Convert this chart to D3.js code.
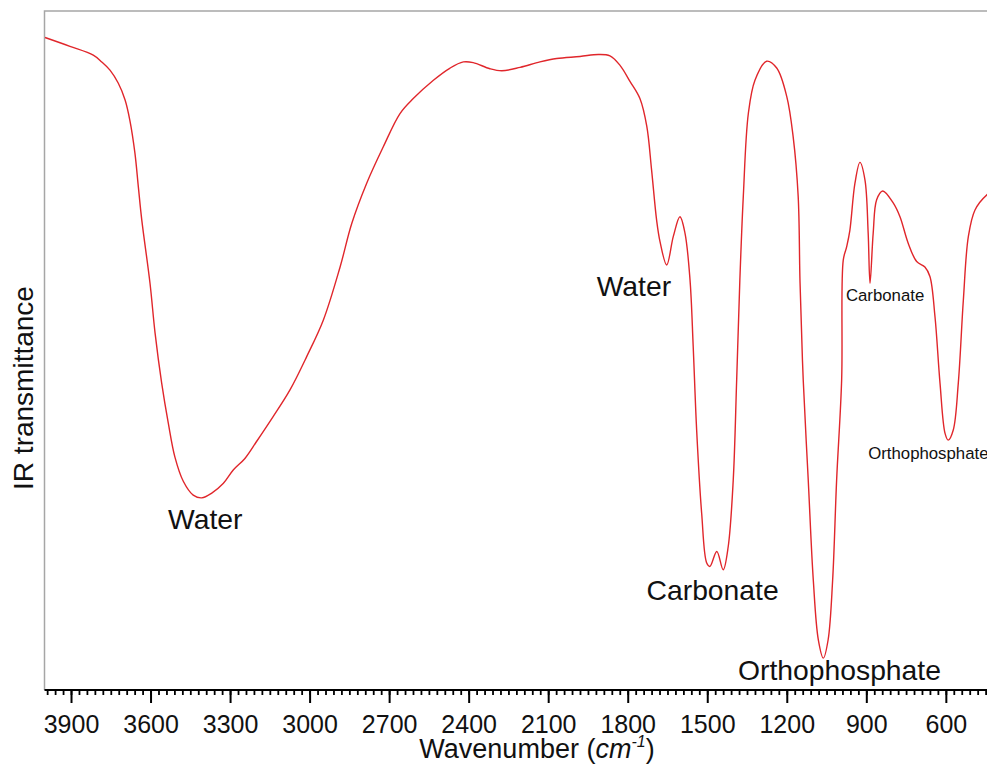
<!DOCTYPE html>
<meta charset="utf-8"/>
<style>
  body { margin: 0; background: #fff; }
  text { font-family: "Liberation Sans", Arial, sans-serif; }
</style>
<svg width="987" height="771"></svg>
<script src="https://d3js.org/d3.v7.min.js"></script>
<script>

// spectrum: wavenumber (cm-1) and transmittance (arbitrary %)
var wavenumber = [3998, 3904, 3816, 3784, 3753, 3722, 3696, 3678, 3659, 3646, 3633, 3602, 3583,
  3558, 3533, 3508, 3476, 3439, 3407, 3369, 3326, 3288, 3244, 3200, 3137, 3074, 3011, 2948, 2885,
  2841, 2785, 2722, 2659, 2609, 2533, 2470, 2420, 2383, 2320, 2275, 2206, 2131, 2068, 1980, 1911,
  1867, 1829, 1791, 1754, 1728, 1710, 1691, 1678, 1653, 1628, 1603, 1584, 1565, 1553, 1540, 1521,
  1502, 1490, 1464, 1440, 1421, 1402, 1389, 1377, 1364, 1345, 1320, 1276, 1238, 1200, 1176, 1157,
  1150, 1138, 1119, 1100, 1081, 1062, 1044, 1027, 1012, 993, 987, 974, 962, 943, 924, 905, 893,
  886, 874, 861, 838, 798, 773, 742, 710, 679, 660, 641, 622, 603, 591, 572, 553, 534, 515, 490,
  446, 400];
var transmittance = [96.1, 94.8, 93.5, 92.5, 91.3, 89.4, 86.9, 83.9, 79.1, 74.1, 69.2, 59.9, 52.6,
  45.2, 39.3, 34.3, 30.7, 28.7, 28.3, 29.0, 30.4, 32.4, 34.1, 36.6, 40.3, 44.2, 49.1, 54.5, 62.3,
  68.7, 74.6, 80.0, 84.9, 87.1, 89.8, 91.6, 92.5, 92.4, 91.5, 91.2, 91.7, 92.5, 93.0, 93.3, 93.6,
  93.4, 92.0, 89.6, 87.1, 83.0, 76.6, 69.2, 66.0, 62.6, 66.8, 69.7, 67.3, 60.4, 50.6, 38.3, 26.0,
  18.7, 18.2, 20.4, 17.7, 21.1, 30.9, 45.7, 60.4, 72.7, 84.9, 89.8, 92.6, 91.6, 87.4, 81.5, 72.7,
  60.0, 45.7, 30.9, 16.2, 7.4, 4.7, 7.4, 16.2, 30.9, 45.7, 63.3, 65.3, 67.7, 74.6, 77.7, 75.1, 67.3,
  59.9, 67.3, 72.2, 73.5, 71.7, 69.7, 65.8, 63.1, 62.3, 60.9, 55.0, 45.2, 37.8, 36.8, 38.3, 45.2, 57.4,
  66.8, 70.7, 72.9, 74.0];

var majorTicks = [3900, 3600, 3300, 3000, 2700, 2400, 2100, 1800, 1500, 1200, 900, 600];

// band annotations: text, wavenumber where the text starts, transmittance of its baseline, big/small
var bandLabels = ["Water", "Water", "Carbonate", "Orthophosphate", "Carbonate", "Orthophosphate"];
var bandWn = [3534, 1917, 1729, 1384, 977, 893];
var bandT = [23.7, 58.0, 13.2, 1.5, 57.3, 34.0];
var bandBig = [true, true, true, true, false, false];

var data = wavenumber.map(function(w, i) { return {wn: w, t: transmittance[i]}; });

var svg = d3.select("svg"),
    plotLeft = 44.5, plotTop = 11, plotBottom = 690;

var x = d3.scaleLinear()
    .domain([4000, 400])
    .range([plotLeft, plotLeft + 3600 * 0.2651]);

var y = d3.scaleLinear()
    .domain([0, 100])
    .range([plotBottom, plotTop]);

// frame (top and left, grey)
svg.append("path")
    .attr("d", "M" + plotLeft + "," + plotBottom + "V" + plotTop + "H" + 1000)
    .attr("fill", "none")
    .attr("stroke", "#a6a6a6")
    .attr("stroke-width", 1.5);

var line = d3.line()
    .x(function(d) { return x(d.wn); })
    .y(function(d) { return y(d.t); })
    .curve(d3.curveCatmullRom.alpha(0.5));

svg.append("path")
    .datum(data)
    .attr("fill", "none")
    .attr("stroke", "#e0262b")
    .attr("stroke-width", 1.4)
    .attr("d", line);

// minor ticks every 30
var minor = d3.range(3990, 400, -30);
svg.append("g")
    .attr("transform", "translate(0," + plotBottom + ")")
    .call(d3.axisBottom(x).tickValues(minor).tickSize(5).tickFormat(""))
    .call(function(g) {
      g.select(".domain").remove();
      g.selectAll("line").attr("stroke", "#000").attr("stroke-width", 1.8);
    });

var xAxis = svg.append("g")
    .attr("transform", "translate(0," + plotBottom + ")")
    .call(d3.axisBottom(x).tickValues(majorTicks).tickSize(13).tickPadding(12).tickSizeOuter(0).tickFormat(d3.format("d")));
xAxis.select(".domain").attr("stroke", "#000").attr("stroke-width", 2).attr("d", "M" + plotLeft + ",0H1000");
xAxis.selectAll("line").attr("stroke", "#000").attr("stroke-width", 2);
xAxis.selectAll("text")
    .attr("fill", "#111")
    .style("font-size", "25px")
    .style("font-family", "'Liberation Sans', Arial, sans-serif");

// axis titles
var xt = svg.append("text")
    .attr("x", 537)
    .attr("y", 758)
    .attr("text-anchor", "middle")
    .attr("fill", "#111")
    .style("font-size", "27px");
xt.append("tspan").text("Wavenumber (");
xt.append("tspan").style("font-style", "italic").text("cm");
xt.append("tspan").attr("dy", -11).style("font-size", "16px").style("font-style", "italic").text("-1");
xt.append("tspan").attr("dy", 11).text(")");

svg.append("text")
    .attr("transform", "translate(33,388) rotate(-90)")
    .attr("text-anchor", "middle")
    .attr("fill", "#111")
    .style("font-size", "28px")
    .text("IR transmittance");

// band annotations
svg.append("g").selectAll("text")
  .data(bandLabels)
  .join("text")
    .attr("x", function(d, i) { return x(bandWn[i]); })
    .attr("y", function(d, i) { return y(bandT[i]); })
    .attr("fill", "#111")
    .style("font-size", function(d, i) { return bandBig[i] ? "28.3px" : "16.8px"; })
    .text(function(d) { return d; });

</script>
